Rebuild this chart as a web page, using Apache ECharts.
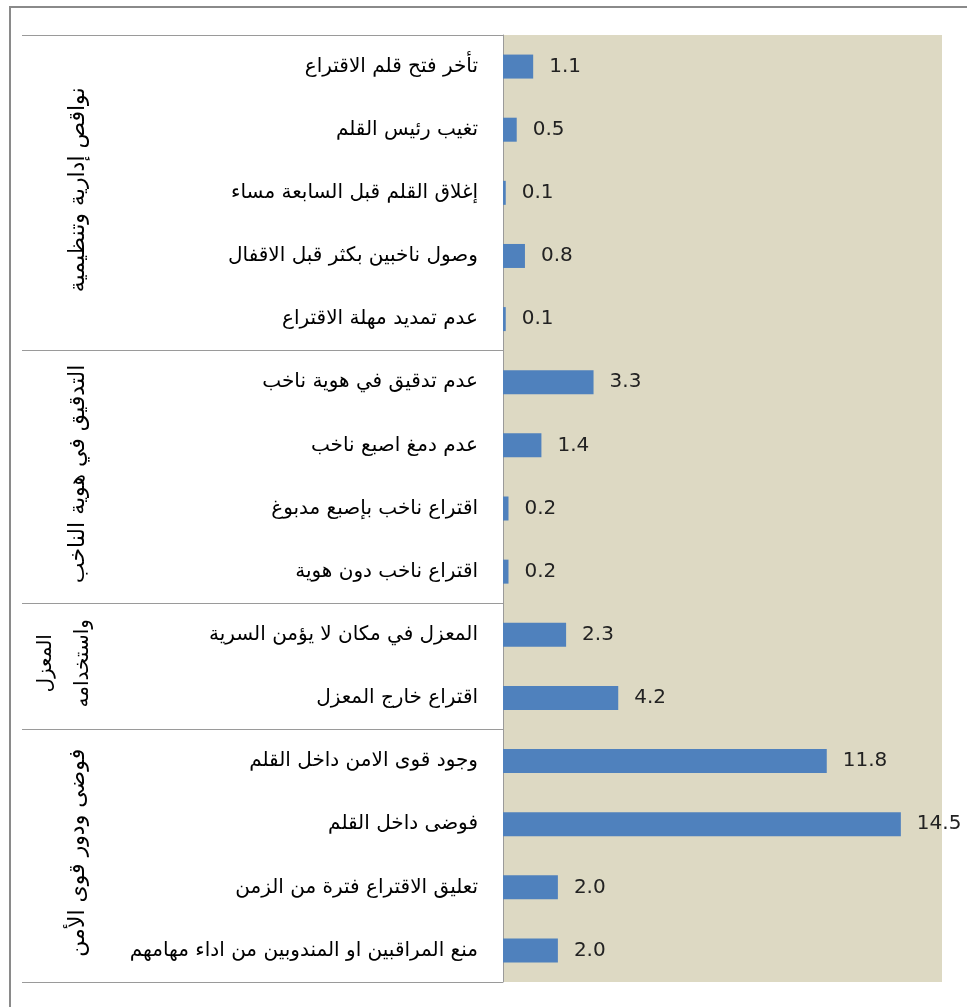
<!DOCTYPE html>
<html>
<head>
<meta charset="utf-8">
<script src="https://cdn.jsdelivr.net/npm/echarts@6/dist/echarts.min.js"></script>
<style>
html, body { margin: 0; padding: 0; background: #fff; }
#main { width: 967px; height: 1007px; }
</style>
</head>
<body>
<div id="main"></div>
<script>
var categories = [
    'تأخر فتح قلم الاقتراع',
    'تغيب رئيس القلم',
    'إغلاق القلم قبل السابعة مساء',
    'وصول ناخبين بكثر قبل الاقفال',
    'عدم تمديد مهلة الاقتراع',
    'عدم تدقيق في هوية ناخب',
    'عدم دمغ اصبع ناخب',
    'اقتراع ناخب بإصبع مدبوغ',
    'اقتراع ناخب دون هوية',
    'المعزل في مكان لا يؤمن السرية',
    'اقتراع خارج المعزل',
    'وجود قوى الامن داخل القلم',
    'فوضى داخل القلم',
    'تعليق الاقتراع فترة من الزمن',
    'منع المراقبين او المندوبين من اداء مهامهم'
];
var values = [1.1, 0.5, 0.1, 0.8, 0.1, 3.3, 1.4, 0.2, 0.2, 2.3, 4.2, 11.8, 14.5, 2.0, 2.0];
var groupNames = [
    'نواقص إدارية وتنظيمية',
    'التدقيق في هوية الناخب',
    'المعزل\nواستخدامه',
    'فوضى ودور قوى الأمن'
];
var groupSizes = [5, 4, 2, 4];

// indexes where a group starts (for the separator lines)
var groupStarts = [];
var acc = 0;
for (var i = 0; i < groupSizes.length; i++) {
    groupStarts.push(acc);
    acc += groupSizes[i];
}

var gridTop = 35;
var gridHeight = 947;
var band = gridHeight / categories.length;

// outer frame + rotated group titles
var graphics = [
    {
        type: 'rect',
        shape: { x: 10, y: 7, width: 990, height: 1040 },
        style: { fill: 'none', stroke: '#8a8a8a', lineWidth: 2 },
        silent: true
    }
];
for (var g = 0; g < groupNames.length; g++) {
    var twoLines = groupNames[g].indexOf('\n') >= 0;
    var mid = gridTop + (groupStarts[g] + groupSizes[g] / 2) * band;
    graphics.push({
        type: 'text',
        x: twoLines ? 64 : 78,
        y: mid - 3,
        rotation: Math.PI / 2,
        silent: true,
        style: {
            text: groupNames[g],
            fontSize: twoLines ? 20 : 22,
            fontFamily: 'DejaVu Sans',
            fill: '#000',
            align: 'center',
            verticalAlign: 'middle',
            lineHeight: twoLines ? 37 : 24
        }
    });
}

var dom = document.getElementById('main');
var myChart = echarts.init(dom);

var option = {
    animation: false,
    grid: {
        left: 503,
        top: gridTop,
        width: 439,
        height: gridHeight,
        show: true,
        backgroundColor: '#ddd9c3',
        borderWidth: 0
    },
    xAxis: {
        type: 'value',
        min: 0,
        max: 16,
        show: false
    },
    yAxis: {
        type: 'category',
        inverse: true,
        data: categories,
        axisLine: {
            lineStyle: { color: '#9a9a9a', width: 1 }
        },
        axisTick: {
            show: true,
            length: 481,
            interval: function (index) {
                return groupStarts.indexOf(index) >= 0;
            },
            lineStyle: { color: '#9a9a9a', width: 1 }
        },
        axisLabel: {
            interval: 0,
            margin: 25,
            fontSize: 20,
            color: '#000',
            fontFamily: 'DejaVu Sans'
        },
        splitLine: { show: false }
    },
    graphic: graphics,
    series: [
        {
            type: 'bar',
            data: values,
            barWidth: 24,
            itemStyle: { color: '#4f81bd' },
            label: {
                show: true,
                position: 'right',
                distance: 16,
                fontSize: 20,
                color: '#222',
                fontFamily: 'DejaVu Sans',
                formatter: function (p) {
                    return p.value.toFixed(1);
                }
            }
        }
    ]
};

myChart.setOption(option, true);
</script>
</body>
</html>
